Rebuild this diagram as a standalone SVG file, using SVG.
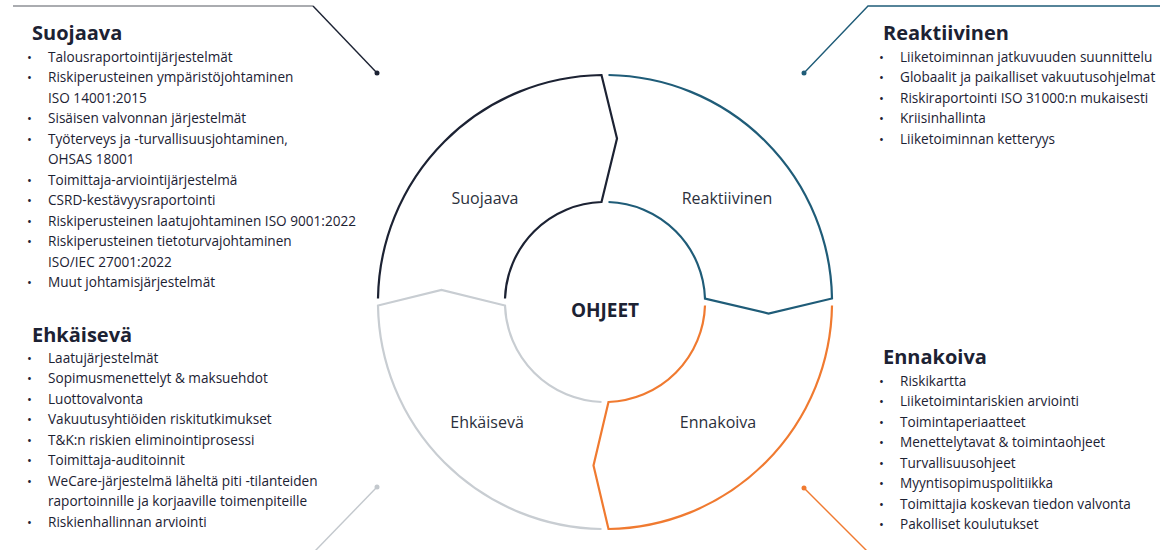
<svg xmlns="http://www.w3.org/2000/svg" width="1160" height="550" viewBox="0 0 1160 550">
<style>
text{font-family:"Open Sans","Noto Sans","Liberation Sans",sans-serif;fill:#1c2233}
.h{font-size:20px;font-weight:700}
.i{font-size:13.6px}
.b{font-size:13px}
.lbl{font-size:16px;fill:#2b303c;text-anchor:middle}
.seg{fill:none;stroke-width:2.2;stroke-linejoin:miter}
.lead{fill:none;stroke-width:1.4}
</style>
<rect width="1160" height="550" fill="#ffffff"/>
<g id="connectors">
<line class="lead" x1="13" y1="6" x2="313" y2="6" stroke="#8e9096" stroke-width="2"/>
<line class="lead" x1="313" y1="6" x2="377" y2="73" stroke="#1c2233"/>
<circle cx="377" cy="73" r="2.5" fill="#1c2233"/>
<polyline class="lead" points="1160,6 868,6 804,73" stroke="#1f5c78"/>
<circle cx="804" cy="73" r="2.5" fill="#1f5c78"/>
<line class="lead" x1="377" y1="487" x2="315" y2="551" stroke="#c3c8cd"/>
<circle cx="377" cy="487" r="2.5" fill="#c3c8cd"/>
<line class="lead" x1="804" y1="488" x2="867" y2="551" stroke="#f07a30"/>
<circle cx="804" cy="488" r="2.5" fill="#f07a30"/>
</g>
<g id="suojaava-seg">
<path class="seg" stroke="#1c2233" d="M378 298.5 A227 227 0 0 1 601.5 75 L617 138.5 L601.5 202 A100 100 0 0 0 505 298.5"/>
<text class="lbl" x="485" y="204">Suojaava</text>
</g>
<g id="reaktiivinen-seg">
<path class="seg" stroke="#1f5c78" d="M608.5 75 A227 227 0 0 1 832 298.5 L768.5 313.5 L705 298.5 A100 100 0 0 0 608.5 202"/>
<text class="lbl" x="727" y="204">Reaktiivinen</text>
</g>
<g id="ennakoiva-seg">
<path class="seg" stroke="#f07a30" d="M832 305.5 A227 227 0 0 1 608.5 529 L593.5 465.5 L608.5 402 A100 100 0 0 0 705 305.5"/>
<text class="lbl" x="718" y="428">Ennakoiva</text>
</g>
<g id="ehkaiseva-seg">
<path class="seg" stroke="#c8cdd2" d="M601.5 529 A227 227 0 0 1 378 305.5 L441.5 290 L505 305.5 A100 100 0 0 0 601.5 402"/>
<text class="lbl" x="487" y="428">Ehkäisevä</text>
</g>
<g id="ohjeet">
<text x="605" y="317" style="font-size:19px;font-weight:700;text-anchor:middle">OHJEET</text>
</g>
<g id="suojaava-list">
<text class="h" x="32" y="39.5">Suojaava</text>
<text class="b" x="27" y="61.5">•</text><text class="b" x="27" y="82">•</text><text class="b" x="27" y="123">•</text><text class="b" x="27" y="143.5">•</text><text class="b" x="27" y="184.5">•</text><text class="b" x="27" y="205">•</text><text class="b" x="27" y="225.5">•</text><text class="b" x="27" y="246">•</text><text class="b" x="27" y="287">•</text>
<text class="i" x="48" y="61.5">Talousraportointijärjestelmät</text>
<text class="i" x="48" y="82">Riskiperusteinen ympäristöjohtaminen</text>
<text class="i" x="48" y="102.5">ISO 14001:2015</text>
<text class="i" x="48" y="123">Sisäisen valvonnan järjestelmät</text>
<text class="i" x="48" y="143.5">Työterveys ja -turvallisuusjohtaminen,</text>
<text class="i" x="48" y="164">OHSAS 18001</text>
<text class="i" x="48" y="184.5">Toimittaja-arviointijärjestelmä</text>
<text class="i" x="48" y="205">CSRD-kestävyysraportointi</text>
<text class="i" x="48" y="225.5">Riskiperusteinen laatujohtaminen ISO 9001:2022</text>
<text class="i" x="48" y="246">Riskiperusteinen tietoturvajohtaminen</text>
<text class="i" x="48" y="266.5">ISO/IEC 27001:2022</text>
<text class="i" x="48" y="287">Muut johtamisjärjestelmät</text>
</g>
<g id="reaktiivinen-list">
<text class="h" x="883" y="39.5">Reaktiivinen</text>
<text class="b" x="879" y="61.5">•</text><text class="b" x="879" y="82">•</text><text class="b" x="879" y="102.5">•</text><text class="b" x="879" y="123">•</text><text class="b" x="879" y="143.5">•</text>
<text class="i" x="900" y="61.5">Liiketoiminnan jatkuvuuden suunnittelu</text>
<text class="i" x="900" y="82">Globaalit ja paikalliset vakuutusohjelmat</text>
<text class="i" x="900" y="102.5">Riskiraportointi ISO 31000:n mukaisesti</text>
<text class="i" x="900" y="123">Kriisinhallinta</text>
<text class="i" x="900" y="143.5">Liiketoiminnan ketteryys</text>
</g>
<g id="ehkaiseva-list">
<text class="h" x="32" y="341.5">Ehkäisevä</text>
<text class="b" x="27" y="362.5">•</text><text class="b" x="27" y="383">•</text><text class="b" x="27" y="403.5">•</text><text class="b" x="27" y="424">•</text><text class="b" x="27" y="444.5">•</text><text class="b" x="27" y="465">•</text><text class="b" x="27" y="485.5">•</text><text class="b" x="27" y="526.5">•</text>
<text class="i" x="48" y="362.5">Laatujärjestelmät</text>
<text class="i" x="48" y="383">Sopimusmenettelyt &amp; maksuehdot</text>
<text class="i" x="48" y="403.5">Luottovalvonta</text>
<text class="i" x="48" y="424">Vakuutusyhtiöiden riskitutkimukset</text>
<text class="i" x="48" y="444.5">T&amp;K:n riskien eliminointiprosessi</text>
<text class="i" x="48" y="465">Toimittaja-auditoinnit</text>
<text class="i" x="48" y="485.5">WeCare-järjestelmä läheltä piti -tilanteiden</text>
<text class="i" x="48" y="506">raportoinnille ja korjaaville toimenpiteille</text>
<text class="i" x="48" y="526.5">Riskienhallinnan arviointi</text>
</g>
<g id="ennakoiva-list">
<text class="h" x="883" y="364">Ennakoiva</text>
<text class="b" x="879" y="385.5">•</text><text class="b" x="879" y="406">•</text><text class="b" x="879" y="426.5">•</text><text class="b" x="879" y="447">•</text><text class="b" x="879" y="467.5">•</text><text class="b" x="879" y="488">•</text><text class="b" x="879" y="508.5">•</text><text class="b" x="879" y="529">•</text>
<text class="i" x="900" y="385.5">Riskikartta</text>
<text class="i" x="900" y="406">Liiketoimintariskien arviointi</text>
<text class="i" x="900" y="426.5">Toimintaperiaatteet</text>
<text class="i" x="900" y="447">Menettelytavat &amp; toimintaohjeet</text>
<text class="i" x="900" y="467.5">Turvallisuusohjeet</text>
<text class="i" x="900" y="488">Myyntisopimuspolitiikka</text>
<text class="i" x="900" y="508.5">Toimittajia koskevan tiedon valvonta</text>
<text class="i" x="900" y="529">Pakolliset koulutukset</text>
</g>
</svg>
